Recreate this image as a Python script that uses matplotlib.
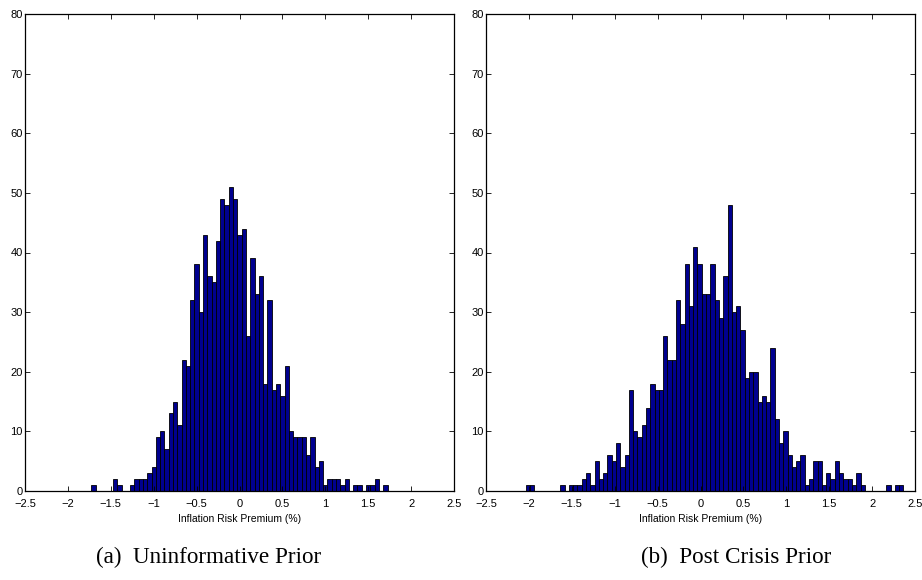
import numpy as np
import matplotlib
matplotlib.use("Agg")
import matplotlib.pyplot as plt
from matplotlib import font_manager

# ---- data (histogram counts) ----
bin_width = 0.05
left_start = -1.725   # left edge of first bin, panel (a)
left_counts = [1, 0, 0, 0, 0, 2, 1, 0, 0, 1, 2, 2, 2, 3, 4, 9, 10, 7, 13, 15,
               11, 22, 21, 32, 38, 30, 43, 36, 35, 42, 49, 48, 51, 49, 43, 44,
               26, 39, 33, 36, 18, 32, 17, 18, 16, 21, 10, 9, 9, 9, 6, 9, 4, 5,
               1, 2, 2, 2, 1, 2, 0, 1, 1, 0, 1, 1, 2, 0, 1]
right_start = -2.035  # left edge of first bin, panel (b)
right_counts = [1, 1, 0, 0, 0, 0, 0, 0, 1, 0, 1, 1, 1, 2, 3, 1, 5, 2, 3, 6, 5,
                8, 4, 6, 17, 10, 9, 11, 14, 18, 17, 17, 26, 22, 22, 32, 28, 38,
                31, 41, 38, 33, 33, 38, 32, 29, 36, 48, 30, 31, 27, 19, 20, 20,
                15, 16, 15, 24, 12, 8, 10, 6, 4, 5, 6, 1, 2, 5, 5, 1, 3, 2, 5,
                3, 2, 2, 1, 3, 1, 0, 0, 0, 0, 0, 1, 0, 1, 1]
xticks = [-2.5, -2, -1.5, -1, -0.5, 0, 0.5, 1, 1.5, 2, 2.5]
xticklabels = ["\u22122.5", "\u22122", "\u22121.5", "\u22121", "\u22120.5", "0",
               "0.5", "1", "1.5", "2", "2.5"]
yticks = [0, 10, 20, 30, 40, 50, 60, 70, 80]
xlabel = "Inflation Risk Premium (%)"
captions = ["(a)  Uninformative Prior", "(b)  Post Crisis Prior"]

names = {f.name for f in font_manager.fontManager.ttflist}
sans = "Liberation Sans Narrow" if "Liberation Sans Narrow" in names else "Liberation Sans"
serif = "Liberation Serif"

W, H = 922, 580
fig = plt.figure(figsize=(W / 100, H / 100), dpi=100)

panels = [
    (left_start, left_counts, 25.0, 208.5),
    (right_start, right_counts, 486.0, 736.0),
]
ax_w = 429.0
ax_top = 14.0
ax_bot = 491.0

for (start, counts, x0, cap_x), cap in zip(panels, captions):
    ax = fig.add_axes([x0 / W, (H - ax_bot) / H, ax_w / W, (ax_bot - ax_top) / H])
    counts = np.asarray(counts)
    edges = start + bin_width * np.arange(len(counts))
    ax.bar(edges, counts, width=bin_width, align="edge",
           facecolor=(0, 0, 0.5625), edgecolor="black", linewidth=0.6)
    ax.set_xlim(-2.5, 2.5)
    ax.set_ylim(0, 80)
    ax.set_xticks(xticks)
    ax.set_xticklabels(xticklabels)
    ax.set_yticks(yticks)
    ax.tick_params(axis="both", direction="in", top=True, right=True,
                   length=3.5, width=0.6, labelsize=8, colors="black")
    ax.tick_params(axis="x", pad=6)
    ax.tick_params(axis="y", pad=1.5)
    for lab in ax.get_xticklabels() + ax.get_yticklabels():
        lab.set_fontfamily(sans)
    for s in ax.spines.values():
        s.set_linewidth(0.9)
        s.set_color("black")
    ax.set_xlabel(xlabel, fontfamily=sans, fontsize=7.5, labelpad=3)
    fig.text(cap_x / W, 1 - 557 / H, cap, ha="center", va="center",
             fontfamily=serif, fontsize=16.7)

fig.savefig("out.png", dpi=100)
